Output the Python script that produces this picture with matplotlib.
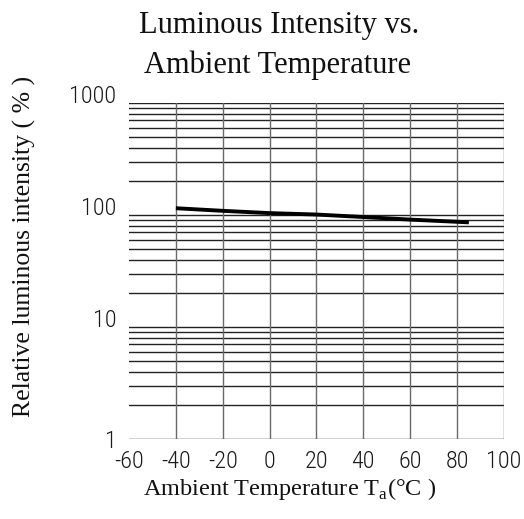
import matplotlib
matplotlib.use('Agg')
import matplotlib.pyplot as plt
import matplotlib.ticker as mticker
import numpy as np

### Data ###
temps = [-40, -20, 0, 20, 40, 60, 80, 85]
intensity = [115, 109, 104, 101, 96, 91, 87, 86]

xticks = [-60, -40, -20, 0, 20, 40, 60, 80, 100]
yticks = [1, 10, 100, 1000]
ytick_labels = ['1', '10', '100', '1000']

serif = 'Liberation Serif'
narrow = ['Roboto Condensed', 'DejaVu Sans']

plt.rcParams['mathtext.fontset'] = 'custom'
plt.rcParams['mathtext.rm'] = serif

### Plotting ###
fig = plt.figure(figsize=(5.24, 5.19), dpi=100)
ax = fig.add_axes([0.2462, 0.1541, 0.7156, 0.6474])

# vertical grid lines (none on the -60 edge)
for t in xticks[1:]:
    ax.axvline(t, color='#6a6a6a', linewidth=1.0, zorder=1)

ax.plot(temps, intensity, color='black', linewidth=2.8, solid_capstyle='butt', zorder=3)

ax.set_yscale('log')
ax.set_xlim(-60, 100)
ax.set_ylim(1, 1000)

ax.set_xticks(xticks)
ax.set_xticklabels([str(t) for t in xticks], family=narrow, stretch='condensed',
                   weight='light', fontsize=17.5, color='#1a1a1a')
ax.set_yticks(yticks)
ax.set_yticklabels(ytick_labels, family=narrow, stretch='condensed',
                   weight='light', fontsize=17.5, color='#1a1a1a')
ax.yaxis.set_minor_locator(mticker.LogLocator(base=10, subs=np.arange(2, 10)))
ax.yaxis.set_minor_formatter(mticker.NullFormatter())

ax.tick_params(which='both', length=0)
ax.tick_params(axis='x', pad=8)
ax.tick_params(axis='y', pad=9)
# labels 10/100/1000 sit on their grid line, "1" is centred
for lbl in ax.get_yticklabels()[1:]:
    lbl.set_va('baseline')

ax.grid(axis='y', which='both', color='#222222', linewidth=1.0, zorder=1)
for s in ax.spines.values():
    s.set_visible(False)
ax.set_axisbelow(True)

fig.text(0.532, 0.9364, 'Luminous Intensity vs.', ha='center', va='baseline',
         family=serif, fontsize=22, color='#111111')
fig.text(0.53, 0.8593, 'Ambient Temperature', ha='center', va='baseline',
         family=serif, fontsize=22, color='#111111')
fig.text(0.552, 0.046, r'Ambient Temperature T$_\mathregular{a}$(°C )', ha='center', va='baseline',
         family=serif, fontsize=17.5, color='#111111')
fig.text(0.047, 0.526, 'Relative luminous intensity ( % )', ha='center', va='center',
         rotation=90, family=serif, fontsize=18.5, color='#111111')

fig.savefig('out.png', dpi=100)
